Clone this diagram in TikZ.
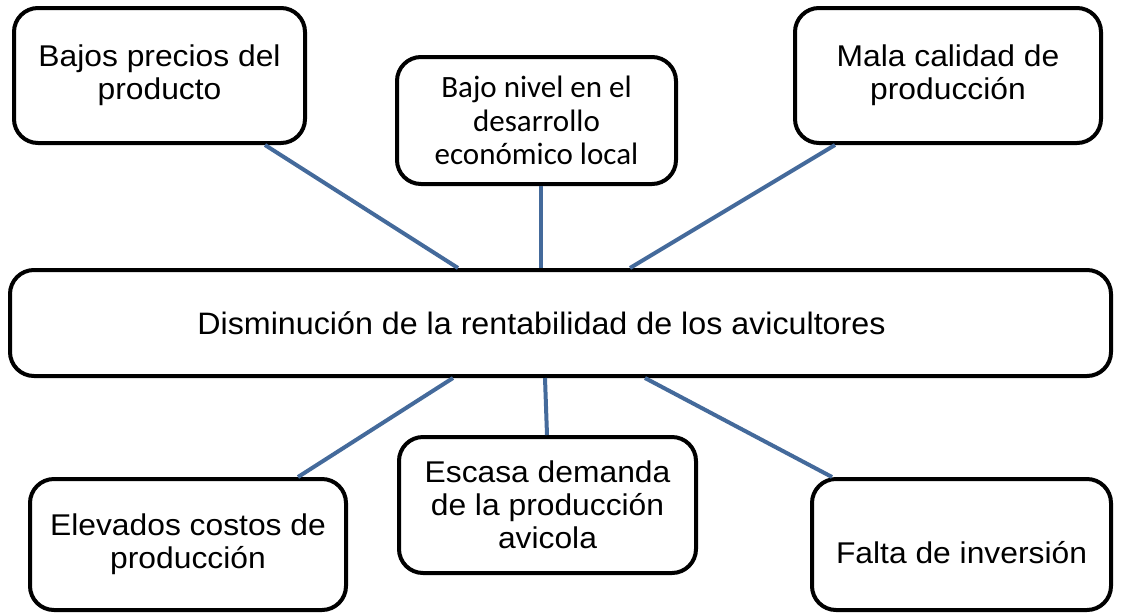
\documentclass[tikz,border=0pt]{standalone}
\usepackage{fontspec}
\setmainfont{Liberation Sans}
\newfontfamily\arialfont[FakeStretch=1.06]{Liberation Sans}
\newfontfamily\centrofont[FakeStretch=1.04]{Liberation Sans}
\newfontfamily\calibrifont{Carlito}
\begin{document}
\begin{tikzpicture}[x=1pt,y=-1pt]
        %colores
        \definecolor{azul}{RGB}{68,106,155}
        \tikzset{caja/.style={draw=black, line width=4pt, rounded corners=24pt, fill=white,
                align=center, inner sep=0pt},
            texto/.style={font=\arialfont\fontsize{30}{33}\selectfont},
            linea/.style={azul, line width=4pt}}

        \useasboundingbox (0,0) rectangle (1122,614);

        % Caja central
        \node[caja, minimum width=1101pt, minimum height=106pt,
            font=\centrofont\fontsize{31}{34}\selectfont] (centro) at (560.5,323)
            {Disminución de la rentabilidad de los avicultores\hspace*{38pt}};

        % Causas arriba
        \node[caja, texto, minimum width=291pt, minimum height=135pt] (precios) at (159.5,75.5)
            {Bajos precios del\\producto};
        \node[caja, minimum width=279pt, minimum height=127pt,
            font=\calibrifont\fontsize{31}{33.5}\selectfont] (nivel) at (536.5,120.5)
            {Bajo nivel en el\\desarrollo\\económico local};
        \node[caja, texto, minimum width=306pt, minimum height=135pt] (calidad) at (948,75.5)
            {Mala calidad de\\producción};

        % Causas abajo
        \node[caja, texto, minimum width=316pt, minimum height=131pt] (costos) at (188,544.5)
            {Elevados costos de\\producción};
        \node[caja, texto, minimum width=297pt, minimum height=136pt] (demanda) at (547.5,505)
            {Escasa demanda\\de la producción\\avicola};
        \node[caja, texto, minimum width=299pt, minimum height=131pt] (inversion) at (961.5,544.5)
            {\raisebox{-8pt}[\height][\depth]{Falta de inversión}};

        % Lineas arriba
        \foreach \caja/\da/\db in {precios/105.5/-102.5, nivel/4.5/-19.5, calidad/-113/69.5}
            \draw[linea] ([xshift=\da pt]\caja.south) -- ([xshift=\db pt]centro.north);
        % Lineas abajo
        \foreach \caja/\da/\db in {costos/110/-107.5, demanda/-0.5/-15.5, inversion/-129.5/84.5}
            \draw[linea] ([xshift=\db pt]centro.south) -- ([xshift=\da pt]\caja.north);
    \end{tikzpicture}
\end{document}
